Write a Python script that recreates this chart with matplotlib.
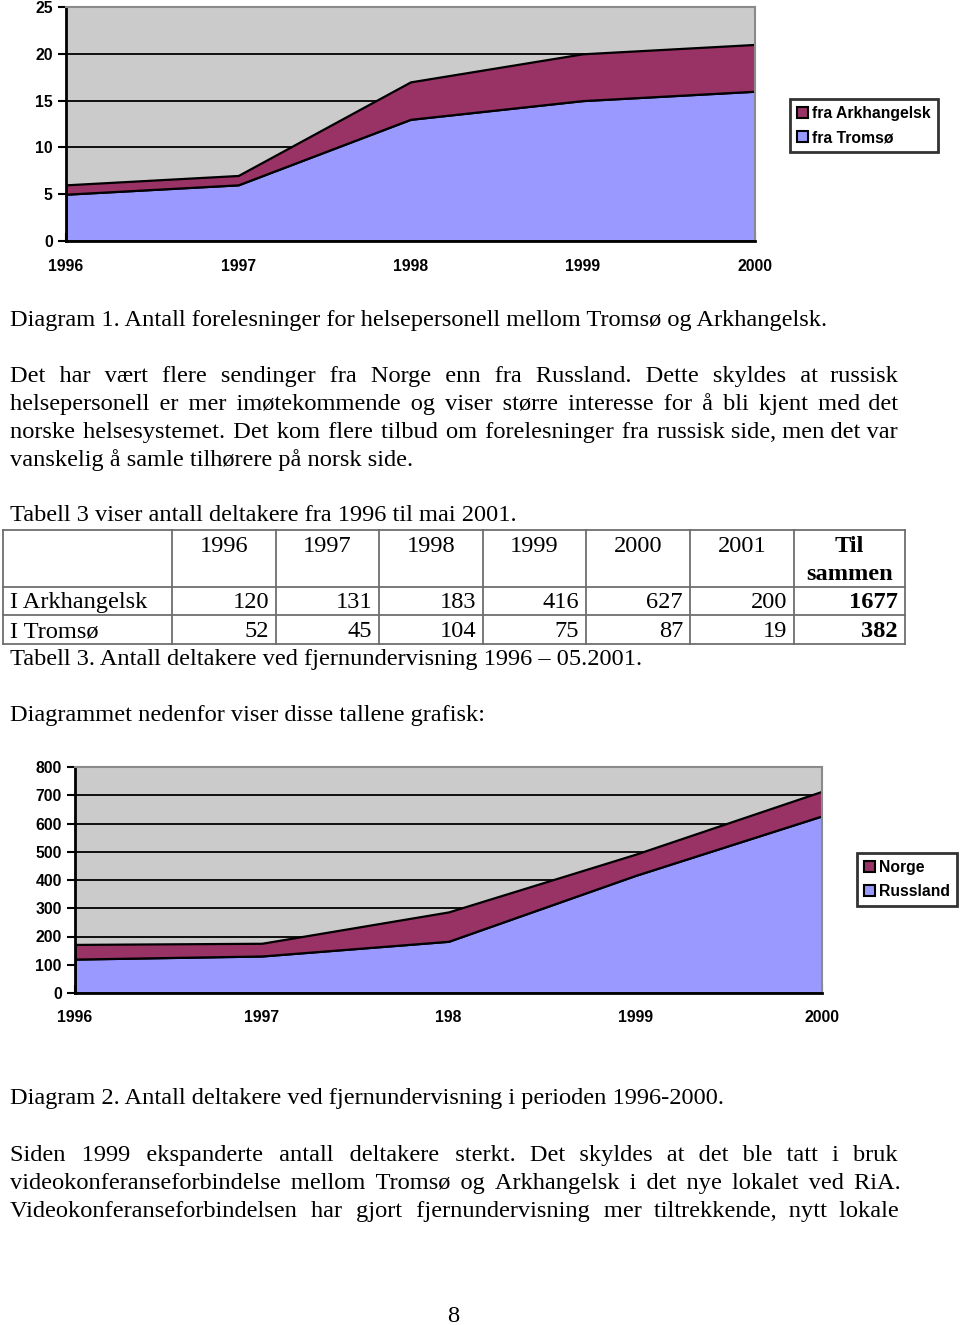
import matplotlib
matplotlib.use("Agg")
import matplotlib.pyplot as plt
from matplotlib.patches import Patch
from matplotlib.font_manager import FontProperties
import numpy as np

# data, diagram 1 (forelesninger)
years = [1996, 1997, 1998, 1999, 2000]
fra_tromso = [5, 6, 13, 15, 16]
fra_arkhangelsk = [1, 1, 4, 5, 5]

# data, diagram 2 (deltakere)
russland = [120, 131, 183, 416, 627]
norge = [52, 45, 104, 75, 87]
diag2_xlabels = ["1996", "1997", "198", "1999", "2000"]

# tabell 3
tab_years = ["1996", "1997", "1998", "1999", "2000", "2001"]
tab_arkhangelsk = [120, 131, 183, 416, 627, 200]
tab_tromso = [52, 45, 104, 75, 87, 19]

BLUE = "#9999FF"
PURPLE = "#993366"
BG = "#CBCBCB"
SERIF = "Liberation Serif"
SANS = "Liberation Sans"
FS = 17.6

W, H = 960, 1325
fig = plt.figure(figsize=(W / 100, H / 100), dpi=100)
page = fig.add_axes([0, 0, 1, 1])
page.set_xlim(0, W)
page.set_ylim(H, 0)
page.axis("off")
renderer = fig.canvas.get_renderer()


def px_rect(x0, y0, x1, y1):
    return [x0 / W, 1 - y1 / H, (x1 - x0) / W, (y1 - y0) / H]


def area_chart(rect, lower, upper, ymax, ystep, xlabels, leg_labels, leg_xy, xpad):
    ax = fig.add_axes(rect)
    ax.set_facecolor(BG)
    ax.stackplot(years, lower, upper, colors=[BLUE, PURPLE],
                 edgecolor="black", linewidth=1.6)
    ax.set_xlim(years[0], years[-1])
    ax.set_ylim(0, ymax)
    ax.set_yticks(np.arange(0, ymax + 1, ystep))
    ax.set_xticks(years)
    ax.set_xticklabels(xlabels)
    ax.grid(axis="y", color="black", lw=1.3)
    ax.set_axisbelow(True)
    for s in ["left", "bottom"]:
        ax.spines[s].set_color("black")
        ax.spines[s].set_linewidth(2)
    for s in ["top", "right"]:
        ax.spines[s].set_color("#8a8a8a")
        ax.spines[s].set_linewidth(1.5)
    ax.tick_params(axis="x", direction="in", length=6, width=1.5, pad=xpad)
    ax.tick_params(axis="y", direction="out", length=6, width=1.5, pad=3.5)
    for lab in ax.get_xticklabels() + ax.get_yticklabels():
        lab.set_fontfamily(SANS)
        lab.set_fontweight("bold")
        lab.set_fontsize(11.3)
    handles = [Patch(fc=PURPLE, ec="black", lw=1.5), Patch(fc=BLUE, ec="black", lw=1.5)]
    leg = fig.legend(handles, leg_labels, loc="upper left",
                     bbox_to_anchor=(leg_xy[0] / W, 1 - leg_xy[1] / H),
                     frameon=True, fancybox=False, edgecolor="black",
                     borderaxespad=0, handlelength=0.7, handleheight=0.7,
                     handletextpad=0.3, borderpad=0.42, labelspacing=0.62,
                     prop={"family": SANS, "weight": "bold", "size": 11.3})
    leg.get_frame().set_linewidth(2)
    return ax


area_chart(px_rect(66, 7, 755, 241), fra_tromso, fra_arkhangelsk, 25, 5,
           [str(y) for y in years], ["fra Arkhangelsk", "fra Tromsø"], (790, 99), 13)
area_chart(px_rect(75, 767, 822, 993), russland, norge, 800, 100,
           diag2_xlabels, ["Norge", "Russland"], (857, 853), 12.5)

prop = FontProperties(family=SERIF, size=FS)


def width(s):
    return renderer.get_text_width_height_descent(s, prop, ismath=False)[0]


def line(txt, y, x=10, **kw):
    page.text(x, y, txt, fontsize=FS, family=SERIF, va="baseline", **kw)


# justified line: one text, gaps padded with hair spaces
HAIR = "\u200a"
hair_w = (width("a" + HAIR * 20 + "a") - width("aa")) / 20


def justified(txt, y, x0=10, x1=898):
    words = txt.split()
    extra = max(x1 - x0 - width(" ".join(words)), 0)
    n = int(round(extra / hair_w))
    q, r = divmod(n, len(words) - 1)
    s = words[0]
    for i, w in enumerate(words[1:]):
        s += " " + HAIR * (q + (1 if i < r else 0)) + w
    line(s, y, x=x0)


line("Diagram 1. Antall forelesninger for helsepersonell mellom Tromsø og Arkhangelsk.", 326)
justified("Det har vært flere sendinger fra Norge enn fra Russland. Dette skyldes at russisk", 382)
justified("helsepersonell er mer imøtekommende og viser større interesse for å bli kjent med det", 410)
justified("norske helsesystemet. Det kom flere tilbud om forelesninger fra russisk side, men det var", 438)
line("vanskelig å samle tilhørere på norsk side.", 466)
line("Tabell 3 viser antall deltakere fra 1996 til mai 2001.", 521)

# table
col_x = [3, 172, 276, 379, 483, 586, 690, 794, 905]
row_y = [530, 587, 615, 644]
for y in row_y:
    page.plot([col_x[0], col_x[-1]], [y, y], color="#6e6e6e", lw=1.3)
for x in col_x:
    page.plot([x, x], [row_y[0], row_y[-1]], color="#6e6e6e", lw=1.3)
for i, yr in enumerate(tab_years):
    line(yr, 552, x=(col_x[i + 1] + col_x[i + 2]) / 2, ha="center")
line("Til", 552, x=(col_x[-2] + col_x[-1]) / 2, ha="center", weight="bold")
line("sammen", 580, x=(col_x[-2] + col_x[-1]) / 2, ha="center", weight="bold")
for r, (name, vals) in enumerate([("I Arkhangelsk", tab_arkhangelsk), ("I Tromsø", tab_tromso)]):
    yb = [608, 637][r]
    line(name, yb)
    for i, v in enumerate(vals):
        line(str(v), yb, x=col_x[i + 2] - 7, ha="right")
    line(str(sum(vals)), yb, x=col_x[-1] - 7, ha="right", weight="bold")

line("Tabell 3. Antall deltakere ved fjernundervisning 1996 – 05.2001.", 665)
line("Diagrammet nedenfor viser disse tallene grafisk:", 721)
line("Diagram 2. Antall deltakere ved fjernundervisning i perioden 1996-2000.", 1104)
justified("Siden 1999 ekspanderte antall deltakere sterkt. Det skyldes at det ble tatt i bruk", 1161)
justified("videokonferanseforbindelse mellom Tromsø og Arkhangelsk i det nye lokalet ved RiA.", 1189)
justified("Videokonferanseforbindelsen har gjort fjernundervisning mer tiltrekkende, nytt lokale", 1217)
line("8", 1322, x=453, ha="center")

fig.savefig("out.png", dpi=100)
